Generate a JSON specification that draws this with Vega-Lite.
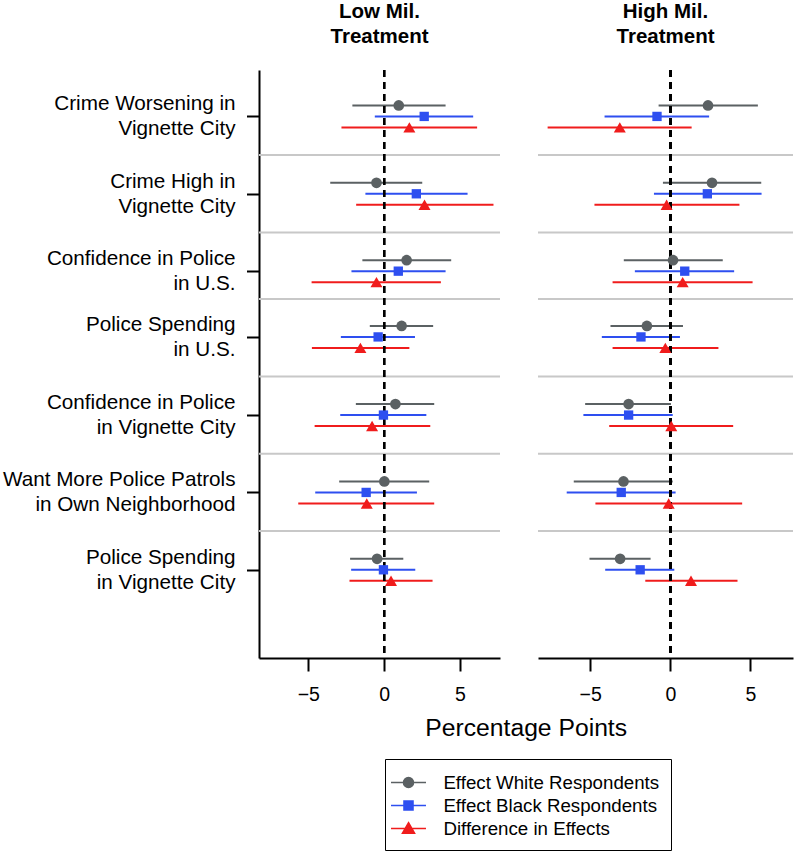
{
  "$schema": "https://vega.github.io/schema/vega-lite/v6.json",
  "padding": {"left": 2, "top": 2, "right": 0, "bottom": 0},
  "bounds": "flush",
  "spacing": 38,
  "config": {
    "view": {"stroke": null},
    "font": "Liberation Sans",
    "axis": {"labelFont": "Liberation Sans", "titleFont": "Liberation Sans", "labelColor": "black", "titleColor": "black"},
    "axisX": {"grid": false, "domainColor": "black", "domainWidth": 2, "tickColor": "black", "tickWidth": 2, "tickSize": 13, "labelFontSize": 19.5, "labelPadding": 14, "labelFlush": false, "titleFontSize": 24.7, "titleFontWeight": "normal"},
    "axisY": {"grid": false, "domainColor": "black", "domainWidth": 2, "tickColor": "black", "tickWidth": 2, "tickSize": 12.5, "labelPadding": 11.5, "labelFontSize": 20.7, "labelLineHeight": 25, "labelOffset": -12.5, "labelAlign": "right", "labelBaseline": "middle", "labelBound": false, "labelFlush": false, "labelOverlap": false, "labelLimit": 0}
  },
  "datasets": {
    "est": [
      {"item": "Crime Worsening", "pos": 7, "treat": "Low", "series": "Effect White Respondents", "est": 0.97, "lo": -2.09, "hi": 4.06},
      {"item": "Crime Worsening", "pos": 7, "treat": "Low", "series": "Effect Black Respondents", "est": 2.65, "lo": -0.61, "hi": 5.88},
      {"item": "Crime Worsening", "pos": 7, "treat": "Low", "series": "Difference in Effects", "est": 1.67, "lo": -2.81, "hi": 6.14},
      {"item": "Crime High", "pos": 6, "treat": "Low", "series": "Effect White Respondents", "est": -0.5, "lo": -3.55, "hi": 2.52},
      {"item": "Crime High", "pos": 6, "treat": "Low", "series": "Effect Black Respondents", "est": 2.13, "lo": -1.23, "hi": 5.51},
      {"item": "Crime High", "pos": 6, "treat": "Low", "series": "Difference in Effects", "est": 2.67, "lo": -1.84, "hi": 7.22},
      {"item": "Confidence US", "pos": 5, "treat": "Low", "series": "Effect White Respondents", "est": 1.49, "lo": -1.43, "hi": 4.43},
      {"item": "Confidence US", "pos": 5, "treat": "Low", "series": "Effect Black Respondents", "est": 0.94, "lo": -2.15, "hi": 4.06},
      {"item": "Confidence US", "pos": 5, "treat": "Low", "series": "Difference in Effects", "est": -0.5, "lo": -4.78, "hi": 3.75},
      {"item": "Spending US", "pos": 4.15, "treat": "Low", "series": "Effect White Respondents", "est": 1.16, "lo": -0.94, "hi": 3.24},
      {"item": "Spending US", "pos": 4.15, "treat": "Low", "series": "Effect Black Respondents", "est": -0.39, "lo": -2.85, "hi": 2.04},
      {"item": "Spending US", "pos": 4.15, "treat": "Low", "series": "Difference in Effects", "est": -1.56, "lo": -4.76, "hi": 1.67},
      {"item": "Confidence VC", "pos": 3.14, "treat": "Low", "series": "Effect White Respondents", "est": 0.75, "lo": -1.86, "hi": 3.31},
      {"item": "Confidence VC", "pos": 3.14, "treat": "Low", "series": "Effect Black Respondents", "est": -0.04, "lo": -2.89, "hi": 2.79},
      {"item": "Confidence VC", "pos": 3.14, "treat": "Low", "series": "Difference in Effects", "est": -0.79, "lo": -4.58, "hi": 3.05},
      {"item": "Patrols", "pos": 2.14, "treat": "Low", "series": "Effect White Respondents", "est": 0.02, "lo": -2.96, "hi": 2.98},
      {"item": "Patrols", "pos": 2.14, "treat": "Low", "series": "Effect Black Respondents", "est": -1.18, "lo": -4.54, "hi": 2.17},
      {"item": "Patrols", "pos": 2.14, "treat": "Low", "series": "Difference in Effects", "est": -1.14, "lo": -5.66, "hi": 3.31},
      {"item": "Spending VC", "pos": 1.14, "treat": "Low", "series": "Effect White Respondents", "est": -0.46, "lo": -2.24, "hi": 1.27},
      {"item": "Spending VC", "pos": 1.14, "treat": "Low", "series": "Effect Black Respondents", "est": -0.04, "lo": -2.17, "hi": 2.06},
      {"item": "Spending VC", "pos": 1.14, "treat": "Low", "series": "Difference in Effects", "est": 0.46, "lo": -2.28, "hi": 3.2},
      {"item": "Crime Worsening", "pos": 7, "treat": "High", "series": "Effect White Respondents", "est": 2.35, "lo": -0.73, "hi": 5.46},
      {"item": "Crime Worsening", "pos": 7, "treat": "High", "series": "Effect Black Respondents", "est": -0.83, "lo": -4.1, "hi": 2.42},
      {"item": "Crime Worsening", "pos": 7, "treat": "High", "series": "Difference in Effects", "est": -3.15, "lo": -7.65, "hi": 1.33},
      {"item": "Crime High", "pos": 6, "treat": "High", "series": "Effect White Respondents", "est": 2.6, "lo": -0.46, "hi": 5.67},
      {"item": "Crime High", "pos": 6, "treat": "High", "series": "Effect Black Respondents", "est": 2.31, "lo": -1.02, "hi": 5.69},
      {"item": "Crime High", "pos": 6, "treat": "High", "series": "Difference in Effects", "est": -0.23, "lo": -4.73, "hi": 4.31},
      {"item": "Confidence US", "pos": 5, "treat": "High", "series": "Effect White Respondents", "est": 0.17, "lo": -2.9, "hi": 3.27},
      {"item": "Confidence US", "pos": 5, "treat": "High", "series": "Effect Black Respondents", "est": 0.9, "lo": -2.21, "hi": 3.98},
      {"item": "Confidence US", "pos": 5, "treat": "High", "series": "Difference in Effects", "est": 0.77, "lo": -3.6, "hi": 5.13},
      {"item": "Spending US", "pos": 4.15, "treat": "High", "series": "Effect White Respondents", "est": -1.46, "lo": -3.73, "hi": 0.79},
      {"item": "Spending US", "pos": 4.15, "treat": "High", "series": "Effect Black Respondents", "est": -1.83, "lo": -4.27, "hi": 0.6},
      {"item": "Spending US", "pos": 4.15, "treat": "High", "series": "Difference in Effects", "est": -0.31, "lo": -3.6, "hi": 3.0},
      {"item": "Confidence VC", "pos": 3.14, "treat": "High", "series": "Effect White Respondents", "est": -2.6, "lo": -5.31, "hi": 0.04},
      {"item": "Confidence VC", "pos": 3.14, "treat": "High", "series": "Effect Black Respondents", "est": -2.6, "lo": -5.42, "hi": 0.15},
      {"item": "Confidence VC", "pos": 3.14, "treat": "High", "series": "Difference in Effects", "est": 0.06, "lo": -3.81, "hi": 3.92},
      {"item": "Patrols", "pos": 2.14, "treat": "High", "series": "Effect White Respondents", "est": -2.92, "lo": -6.02, "hi": 0.15},
      {"item": "Patrols", "pos": 2.14, "treat": "High", "series": "Effect Black Respondents", "est": -3.06, "lo": -6.46, "hi": 0.33},
      {"item": "Patrols", "pos": 2.14, "treat": "High", "series": "Difference in Effects", "est": -0.1, "lo": -4.67, "hi": 4.48},
      {"item": "Spending VC", "pos": 1.14, "treat": "High", "series": "Effect White Respondents", "est": -3.13, "lo": -5.04, "hi": -1.23},
      {"item": "Spending VC", "pos": 1.14, "treat": "High", "series": "Effect Black Respondents", "est": -1.88, "lo": -4.06, "hi": 0.25},
      {"item": "Spending VC", "pos": 1.14, "treat": "High", "series": "Difference in Effects", "est": 1.29, "lo": -1.56, "hi": 4.19}
    ],
    "seps": [
      {"pos": 6.5}, {"pos": 5.5}, {"pos": 4.64}, {"pos": 3.64}, {"pos": 2.64}, {"pos": 1.64}
    ]
  },
  "hconcat": [
    {
      "width": 241,
      "height": 588,
      "title": {"text": ["Low Mil.", "Treatment"], "fontSize": 20.5, "fontWeight": "bold", "lineHeight": 24.5, "offset": 22, "frame": "group", "anchor": "middle", "color": "black", "font": "Liberation Sans"},
      "data": {"name": "est"},
      "transform": [{"filter": "datum.treat === 'Low'"}],
      "encoding": {
        "y": {"field": "pos", "type": "quantitative", "scale": {"domain": [0, 7.6], "nice": false, "zero": false},
          "axis": {"title": null, "values": [7, 6, 5, 4.15, 3.14, 2.14, 1.14], "labelExpr": "datum.value > 6.5 ? ['Crime Worsening in', 'Vignette City'] : datum.value > 5.5 ? ['Crime High in', 'Vignette City'] : datum.value > 4.5 ? ['Confidence in Police', 'in U.S.'] : datum.value > 3.5 ? ['Police Spending', 'in U.S.'] : datum.value > 2.5 ? ['Confidence in Police', 'in Vignette City'] : datum.value > 1.5 ? ['Want More Police Patrols', 'in Own Neighborhood'] : ['Police Spending', 'in Vignette City']"}}
      },
      "layer": [
        {
          "data": {"name": "seps"},
          "mark": {"type": "rule", "color": "#c8c8c8", "strokeWidth": 2}
        },
        {
          "transform": [{"filter": "datum.series === 'Effect White Respondents'"}],
          "mark": {"type": "rule", "color": "#5b6163", "strokeWidth": 2, "yOffset": -11},
          "encoding": {
            "x": {"field": "lo", "type": "quantitative", "scale": {"domain": [-8.25, 7.65], "nice": false, "zero": false},
              "axis": {"values": [-5, 0, 5], "title": "Percentage Points", "titleX": 266.7, "titleY": 77, "titleAlign": "center", "titleBaseline": "alphabetic"}},
            "x2": {"field": "hi"}
          }
        },
        {
          "transform": [{"filter": "datum.series === 'Effect Black Respondents'"}],
          "mark": {"type": "rule", "color": "#2e4ff0", "strokeWidth": 2, "yOffset": 0},
          "encoding": {
            "x": {"field": "lo", "type": "quantitative", "scale": {"domain": [-8.25, 7.65], "nice": false, "zero": false},
              "axis": {"values": [-5, 0, 5], "title": "Percentage Points", "titleX": 266.7, "titleY": 77, "titleAlign": "center", "titleBaseline": "alphabetic"}},
            "x2": {"field": "hi"}
          }
        },
        {
          "transform": [{"filter": "datum.series === 'Difference in Effects'"}],
          "mark": {"type": "rule", "color": "#f01c1c", "strokeWidth": 2, "yOffset": 11},
          "encoding": {
            "x": {"field": "lo", "type": "quantitative", "scale": {"domain": [-8.25, 7.65], "nice": false, "zero": false},
              "axis": {"values": [-5, 0, 5], "title": "Percentage Points", "titleX": 266.7, "titleY": 77, "titleAlign": "center", "titleBaseline": "alphabetic"}},
            "x2": {"field": "hi"}
          }
        },
        {
          "mark": {"type": "rule", "color": "black", "strokeWidth": 2, "strokeDash": [7, 5]},
          "encoding": {
            "x": {"datum": 0, "type": "quantitative", "scale": {"domain": [-8.25, 7.65], "nice": false, "zero": false},
              "axis": {"values": [-5, 0, 5], "title": "Percentage Points", "titleX": 266.7, "titleY": 77, "titleAlign": "center", "titleBaseline": "alphabetic"}},
            "y": null
          }
        },
        {
          "transform": [{"filter": "datum.series === 'Effect White Respondents'"}],
          "mark": {"type": "point", "filled": true, "opacity": 1, "shape": "circle", "size": 114, "yOffset": -11},
          "encoding": {
            "x": {"field": "est", "type": "quantitative", "scale": {"domain": [-8.25, 7.65], "nice": false, "zero": false},
              "axis": {"values": [-5, 0, 5], "title": "Percentage Points", "titleX": 266.7, "titleY": 77, "titleAlign": "center", "titleBaseline": "alphabetic"}},
            "color": {"field": "series", "type": "nominal", "scale": {"domain": ["Effect White Respondents", "Effect Black Respondents", "Difference in Effects"], "range": ["#5b6163", "#2e4ff0", "#f01c1c"]},
              "legend": {"title": null, "orient": "none", "legendX": 126, "legendY": 689, "direction": "vertical", "strokeColor": "black", "padding": 11, "labelFontSize": 18.7, "labelFont": "Liberation Sans", "labelColor": "black", "labelLimit": 0, "symbolSize": 529, "labelOffset": 22.4, "rowPadding": -0.5, "symbolStrokeWidth": 1.6,
                "encoding": {"symbols": {
                  "shape": {"condition": [{"test": "datum.value === 'Effect White Respondents'", "value": "M-1.52,0H1.52M0.435,0A0.435,0.435,0,1,1,-0.435,0A0.435,0.435,0,1,1,0.435,0Z"}, {"test": "datum.value === 'Effect Black Respondents'", "value": "M-1.52,0H1.52M-0.39,-0.39H0.39V0.39H-0.39Z"}], "value": "M-1.52,0H1.52M0,-0.5L0.52,0.4L-0.52,0.4Z"},
                  "fill": {"condition": [{"test": "datum.value === 'Effect White Respondents'", "value": "#5b6163"}, {"test": "datum.value === 'Effect Black Respondents'", "value": "#2e4ff0"}], "value": "#f01c1c"},
                  "stroke": {"condition": [{"test": "datum.value === 'Effect White Respondents'", "value": "#5b6163"}, {"test": "datum.value === 'Effect Black Respondents'", "value": "#2e4ff0"}], "value": "#f01c1c"},
                  "strokeWidth": {"value": 1.6}
                }}}}
          }
        },
        {
          "transform": [{"filter": "datum.series === 'Effect Black Respondents'"}],
          "mark": {"type": "point", "filled": true, "opacity": 1, "shape": "square", "size": 87, "yOffset": 0},
          "encoding": {
            "x": {"field": "est", "type": "quantitative", "scale": {"domain": [-8.25, 7.65], "nice": false, "zero": false},
              "axis": {"values": [-5, 0, 5], "title": "Percentage Points", "titleX": 266.7, "titleY": 77, "titleAlign": "center", "titleBaseline": "alphabetic"}},
            "color": {"field": "series", "type": "nominal"}
          }
        },
        {
          "transform": [{"filter": "datum.series === 'Difference in Effects'"}],
          "mark": {"type": "point", "filled": true, "opacity": 1, "shape": "triangle-up", "size": 144, "yOffset": 11},
          "encoding": {
            "x": {"field": "est", "type": "quantitative", "scale": {"domain": [-8.25, 7.65], "nice": false, "zero": false},
              "axis": {"values": [-5, 0, 5], "title": "Percentage Points", "titleX": 266.7, "titleY": 77, "titleAlign": "center", "titleBaseline": "alphabetic"}},
            "color": {"field": "series", "type": "nominal"}
          }
        }
      ]
    },
    {
      "width": 255,
      "height": 588,
      "title": {"text": ["High Mil.", "Treatment"], "fontSize": 20.5, "fontWeight": "bold", "lineHeight": 24.5, "offset": 22, "frame": "group", "anchor": "middle", "color": "black", "font": "Liberation Sans"},
      "data": {"name": "est"},
      "transform": [{"filter": "datum.treat === 'High'"}],
      "encoding": {
        "y": {"field": "pos", "type": "quantitative", "scale": {"domain": [0, 7.6], "nice": false, "zero": false}, "axis": null}
      },
      "layer": [
        {
          "data": {"name": "seps"},
          "mark": {"type": "rule", "color": "#c8c8c8", "strokeWidth": 2}
        },
        {
          "transform": [{"filter": "datum.series === 'Effect White Respondents'"}],
          "mark": {"type": "rule", "color": "#5b6163", "strokeWidth": 2, "yOffset": -11},
          "encoding": {
            "x": {"field": "lo", "type": "quantitative", "scale": {"domain": [-8.25, 7.65], "nice": false, "zero": false}, "axis": {"values": [-5, 0, 5], "title": null}},
            "x2": {"field": "hi"}
          }
        },
        {
          "transform": [{"filter": "datum.series === 'Effect Black Respondents'"}],
          "mark": {"type": "rule", "color": "#2e4ff0", "strokeWidth": 2, "yOffset": 0},
          "encoding": {
            "x": {"field": "lo", "type": "quantitative", "scale": {"domain": [-8.25, 7.65], "nice": false, "zero": false}, "axis": {"values": [-5, 0, 5], "title": null}},
            "x2": {"field": "hi"}
          }
        },
        {
          "transform": [{"filter": "datum.series === 'Difference in Effects'"}],
          "mark": {"type": "rule", "color": "#f01c1c", "strokeWidth": 2, "yOffset": 11},
          "encoding": {
            "x": {"field": "lo", "type": "quantitative", "scale": {"domain": [-8.25, 7.65], "nice": false, "zero": false}, "axis": {"values": [-5, 0, 5], "title": null}},
            "x2": {"field": "hi"}
          }
        },
        {
          "mark": {"type": "rule", "color": "black", "strokeWidth": 2, "strokeDash": [7, 5]},
          "encoding": {
            "x": {"datum": 0, "type": "quantitative", "scale": {"domain": [-8.25, 7.65], "nice": false, "zero": false}, "axis": {"values": [-5, 0, 5], "title": null}},
            "y": null
          }
        },
        {
          "transform": [{"filter": "datum.series === 'Effect White Respondents'"}],
          "mark": {"type": "point", "filled": true, "opacity": 1, "shape": "circle", "size": 114, "yOffset": -11},
          "encoding": {
            "x": {"field": "est", "type": "quantitative", "scale": {"domain": [-8.25, 7.65], "nice": false, "zero": false}, "axis": {"values": [-5, 0, 5], "title": null}},
            "color": {"field": "series", "type": "nominal"}
          }
        },
        {
          "transform": [{"filter": "datum.series === 'Effect Black Respondents'"}],
          "mark": {"type": "point", "filled": true, "opacity": 1, "shape": "square", "size": 87, "yOffset": 0},
          "encoding": {
            "x": {"field": "est", "type": "quantitative", "scale": {"domain": [-8.25, 7.65], "nice": false, "zero": false}, "axis": {"values": [-5, 0, 5], "title": null}},
            "color": {"field": "series", "type": "nominal"}
          }
        },
        {
          "transform": [{"filter": "datum.series === 'Difference in Effects'"}],
          "mark": {"type": "point", "filled": true, "opacity": 1, "shape": "triangle-up", "size": 144, "yOffset": 11},
          "encoding": {
            "x": {"field": "est", "type": "quantitative", "scale": {"domain": [-8.25, 7.65], "nice": false, "zero": false}, "axis": {"values": [-5, 0, 5], "title": null}},
            "color": {"field": "series", "type": "nominal"}
          }
        }
      ]
    }
  ]
}
